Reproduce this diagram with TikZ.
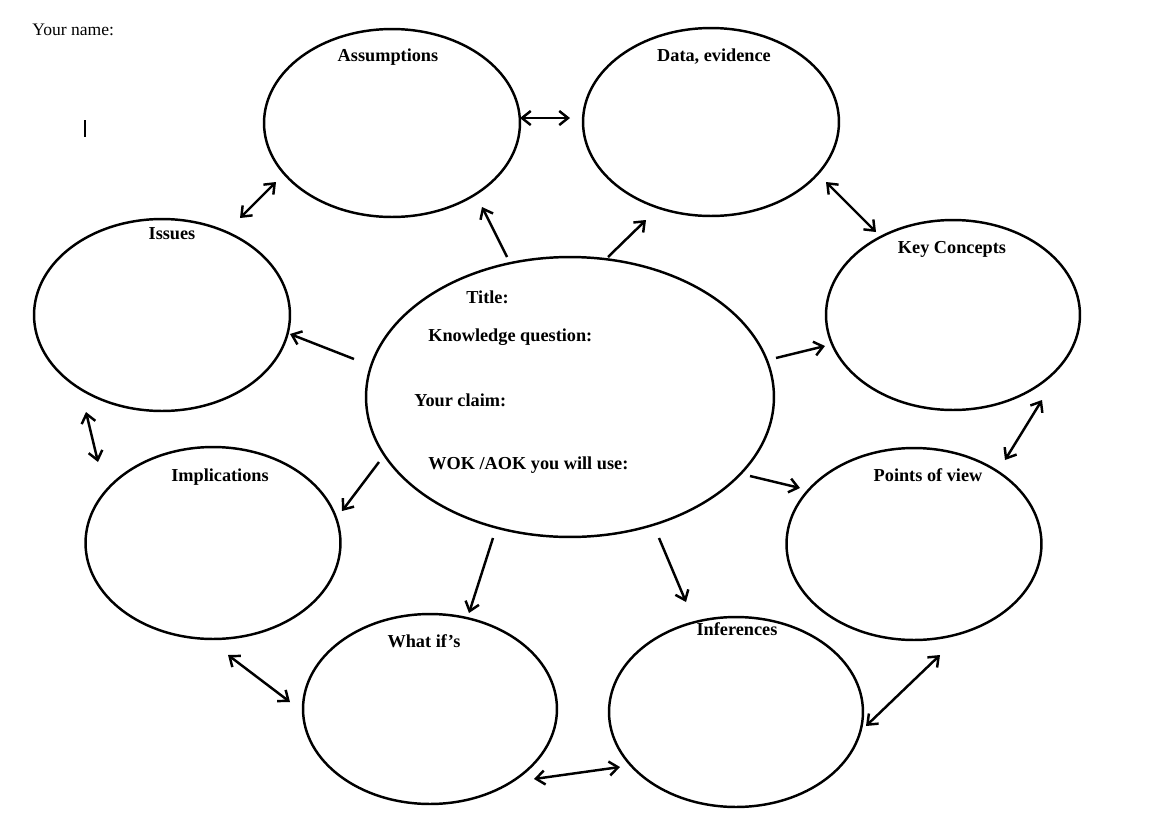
\documentclass[tikz,border=0pt]{standalone}
\usepackage{fontspec}
\setmainfont{Liberation Serif}
\usetikzlibrary{shapes.geometric,arrows.meta}
\begin{document}
\begin{tikzpicture}[x=0.02cm,y=-0.02cm,
  bub/.style={draw,ellipse,line width=1.4pt,inner sep=0pt},
  lbl/.style={font=\bfseries\fontsize{10.4}{12}\selectfont,inner sep=0pt,anchor=base},
  dbl/.style={line width=1.4pt,{Straight Barb[length=5pt,width=8pt,line width=1.4pt]}-{Straight Barb[length=5pt,width=8pt,line width=1.4pt]}},
  one/.style={line width=1.4pt,-{Straight Barb[length=5pt,width=8pt,line width=1.4pt]}}]
\useasboundingbox (0,0) rectangle (1154,822);
\fill[white] (0,0) rectangle (1154,822);
% ellipses
\node[bub,minimum width=5.12cm,minimum height=3.76cm] (assump) at (392,123) {};
\node[bub,minimum width=5.12cm,minimum height=3.76cm] (data) at (711,122) {};
\node[bub,minimum width=5.12cm,minimum height=3.84cm] (issues) at (162,315) {};
\node[bub,minimum width=5.08cm,minimum height=3.8cm] (key) at (953,315) {};
\node[bub,minimum width=8.16cm,minimum height=5.6cm] (central) at (570,397) {};
\node[bub,minimum width=5.1cm,minimum height=3.84cm] (impl) at (213,543) {};
\node[bub,minimum width=5.1cm,minimum height=3.84cm] (pov) at (914,544) {};
\node[bub,minimum width=5.08cm,minimum height=3.8cm] (whatif) at (430,709) {};
\node[bub,minimum width=5.08cm,minimum height=3.8cm] (infer) at (736,712) {};
% labels
\node[font=\fontsize{10}{12}\selectfont,inner sep=0pt,anchor=base west] (name) at (32,35) {Your name:};
\node[lbl] (tA) at (388,61) {Assumptions};
\node[lbl] (tD) at (714,61) {Data, evidence};
\node[lbl] (tI) at (172,239) {Issues};
\node[lbl] (tK) at (952,253) {Key Concepts};
\node[lbl,anchor=base west] (tT) at (466,303) {Title:};
\node[lbl,anchor=base west] (tQ) at (428,341) {Knowledge question:};
\node[lbl,anchor=base west] (tC) at (414,406) {Your claim:};
\node[lbl,anchor=base west] (tW) at (428,469) {WOK /AOK you will use:};
\node[lbl] (tM) at (220,481) {Implications};
\node[lbl] (tP) at (928,481) {Points of view};
\node[lbl] (tF) at (424,647) {What if’s};
\node[lbl] (tN) at (737,635) {Inferences};
% cursor
\coordinate (c1) at (85,120); \coordinate (c2) at (85,137);
\draw[line width=1.1pt] (c1) -- (c2);
% double arrows
\coordinate (a1) at (520,118); \coordinate (a2) at (570,118);
\draw[dbl] (a1) -- (a2);
\coordinate (b1) at (276,182); \coordinate (b2) at (240,218);
\draw[dbl] (b1) -- (b2);
\coordinate (d1) at (826,182); \coordinate (d2) at (876,232);
\draw[dbl] (d1) -- (d2);
\coordinate (e1) at (1042,400); \coordinate (e2) at (1005,460);
\draw[dbl] (e1) -- (e2);
\coordinate (f1) at (86,412); \coordinate (f2) at (98,462);
\draw[dbl] (f1) -- (f2);
\coordinate (g1) at (228,655); \coordinate (g2) at (290,702);
\draw[dbl] (g1) -- (g2);
\coordinate (h1) at (534,779); \coordinate (h2) at (620,767);
\draw[dbl] (h1) -- (h2);
\coordinate (i1) at (866,726); \coordinate (i2) at (940,655);
\draw[dbl] (i1) -- (i2);
% single arrows from central
\coordinate (s1) at (507,257); \coordinate (t1) at (482,207);
\draw[one] (s1) -- (t1);
\coordinate (s2) at (608,257); \coordinate (t2) at (646,220);
\draw[one] (s2) -- (t2);
\coordinate (s3) at (354,359); \coordinate (t3) at (290,334);
\draw[one] (s3) -- (t3);
\coordinate (s4) at (776,358); \coordinate (t4) at (825,346);
\draw[one] (s4) -- (t4);
\coordinate (s5) at (379,462); \coordinate (t5) at (342,511);
\draw[one] (s5) -- (t5);
\coordinate (s6) at (750,476); \coordinate (t6) at (800,488);
\draw[one] (s6) -- (t6);
\coordinate (s7) at (493,538); \coordinate (t7) at (469,613);
\draw[one] (s7) -- (t7);
\coordinate (s8) at (659,538); \coordinate (t8) at (686,602);
\draw[one] (s8) -- (t8);
\end{tikzpicture}
\end{document}
